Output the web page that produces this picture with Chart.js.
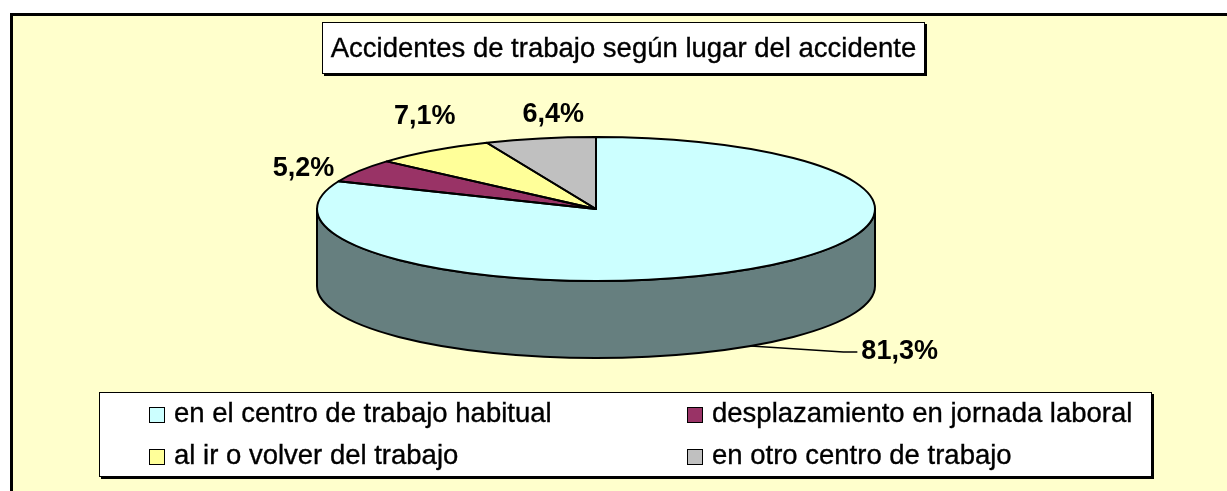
<!DOCTYPE html>
<html>
<head>
<meta charset="utf-8">
<script src="https://cdn.jsdelivr.net/npm/chart.js@4/dist/chart.umd.min.js"></script>
<style>
  body { margin: 0; background: #fff; overflow: hidden; font-family: "Liberation Sans", Arial, sans-serif; }
  #panel { position: absolute; left: 10px; top: 13px; width: 1300px; height: 600px;
           background: #FFFFCC; border-top: 3px solid #000; border-left: 3px solid #000; }
  #chart { position: absolute; left: 0; top: 0; }
  .box { position: absolute; background: #fff; border: 1px solid #000; box-shadow: 2px 2px 0 #000; }
  #title { left: 322px; top: 22px; width: 601px; height: 50px; font-size: 27.5px;
           line-height: 50px; text-align: center; color: #000; -webkit-text-stroke: 0.35px #000; }
  #legend { left: 99px; top: 392px; width: 1051px; height: 83px; }
  .item { position: absolute; font-size: 27.5px; line-height: 30px; color: #000; white-space: nowrap;
          -webkit-text-stroke: 0.35px #000; }
  .sw { display: inline-block; width: 14px; height: 14px; border: 1px solid #000;
        vertical-align: -1px; margin-right: 9px; -webkit-text-stroke: 0; }
</style>
</head>
<body>
<div id="panel"></div>
<canvas id="chart" width="1227" height="491"></canvas>
<div id="title" class="box">Accidentes de trabajo según lugar del accidente</div>
<div id="legend" class="box"></div>
<script>
const labels = ['en el centro de trabajo habitual', 'desplazamiento en jornada laboral',
                'al ir o volver del trabajo', 'en otro centro de trabajo'];
const values = [81.3, 5.2, 7.1, 6.4];
const colors = ['#CCFFFF', '#993366', '#FFFF99', '#C0C0C0'];

// where the flattened pie sits on the page
const PX = 596, PY = 209, RX = 279, RY = 72, DEPTH = 77;
// label shift from the slice's edge point
const nudges = [[149, 6], [-56, -2], [-8, -34], [13, -24]];

function darker(hex) {
  const n = parseInt(hex.slice(1), 16);
  const r = (n >> 16) >> 1, g = ((n >> 8) & 255) >> 1, b = (n & 255) >> 1;
  return `rgb(${r},${g},${b})`;
}

// squash the pie into an ellipse and give it a side wall
const pie3d = {
  id: 'pie3d',
  beforeDatasetsDraw(chart) {
    const ctx = chart.ctx;
    const arcs = chart.getDatasetMeta(0).data;
    ctx.save();
    ctx.lineWidth = 2;
    ctx.strokeStyle = '#000';
    ctx.lineJoin = 'round';
    arcs.forEach((arc, i) => {
      const s = arc.startAngle, e = arc.endAngle;
      [0, 2 * Math.PI].forEach(base => {
        const a0 = Math.max(s, base), a1 = Math.min(e, base + Math.PI);
        if (a1 <= a0) return;
        ctx.beginPath();
        ctx.ellipse(PX, PY, RX, RY, 0, a0, a1);
        ctx.ellipse(PX, PY + DEPTH, RX, RY, 0, a1, a0, true);
        ctx.closePath();
        ctx.fillStyle = darker(colors[i]);
        ctx.fill();
        ctx.stroke();
      });
    });
    ctx.restore();

    const a = arcs[0];
    ctx.save();
    ctx.translate(PX, PY);
    ctx.scale(RX / a.outerRadius, RY / a.outerRadius);
    ctx.translate(-a.x, -a.y);
  },
  afterDatasetsDraw(chart) {
    const ctx = chart.ctx;
    ctx.restore();
    const arcs = chart.getDatasetMeta(0).data;
    ctx.save();
    ctx.lineWidth = 2;
    ctx.strokeStyle = '#000';
    ctx.lineJoin = 'round';
    arcs.forEach(arc => {
      ctx.beginPath();
      ctx.moveTo(PX, PY);
      ctx.ellipse(PX, PY, RX, RY, 0, arc.startAngle, arc.endAngle);
      ctx.closePath();
      ctx.stroke();
    });

    ctx.font = 'bold 27px "Liberation Sans", Arial, sans-serif';
    ctx.textAlign = 'center';
    ctx.textBaseline = 'middle';
    ctx.fillStyle = '#000';
    arcs.forEach((arc, i) => {
      let mid = (arc.startAngle + arc.endAngle) / 2;
      const m = ((mid % (2 * Math.PI)) + 2 * Math.PI) % (2 * Math.PI);
      const front = m > 0 && m < Math.PI;
      const ax = PX + RX * Math.cos(mid);
      const ay = PY + RY * Math.sin(mid) + (front ? DEPTH : 0);
      const lx = ax + nudges[i][0], ly = ay + nudges[i][1];
      const txt = values[i].toFixed(1).replace('.', ',') + '%';
      if (front) {
        const left = lx - ctx.measureText(txt).width / 2;
        ctx.lineWidth = 1.5;
        ctx.beginPath();
        ctx.moveTo(ax, ay);
        ctx.lineTo(left - 18, ly);
        ctx.lineTo(left - 4, ly);
        ctx.stroke();
      }
      ctx.fillText(txt, lx, ly);
    });
    ctx.restore();
  }
};

const chart = new Chart(document.getElementById('chart'), {
  type: 'pie',
  data: {
    labels: labels,
    datasets: [{
      data: values,
      backgroundColor: colors,
      borderWidth: 0,
      clip: false
    }]
  },
  options: {
    responsive: false,
    devicePixelRatio: 1,
    animation: false,
    events: [],
    plugins: {
      legend: { display: false },
      tooltip: { enabled: false }
    }
  },
  plugins: [pie3d]
});

// legend, two columns
const legend = document.getElementById('legend');
const colX = [49, 587], rowY = [5, 47];
labels.forEach((lab, i) => {
  const d = document.createElement('div');
  d.className = 'item';
  d.style.left = colX[i % 2] + 'px';
  d.style.top = rowY[Math.floor(i / 2)] + 'px';
  d.innerHTML = `<span class="sw" style="background:${colors[i]}"></span>${lab}`;
  legend.appendChild(d);
});
</script>
</body>
</html>
